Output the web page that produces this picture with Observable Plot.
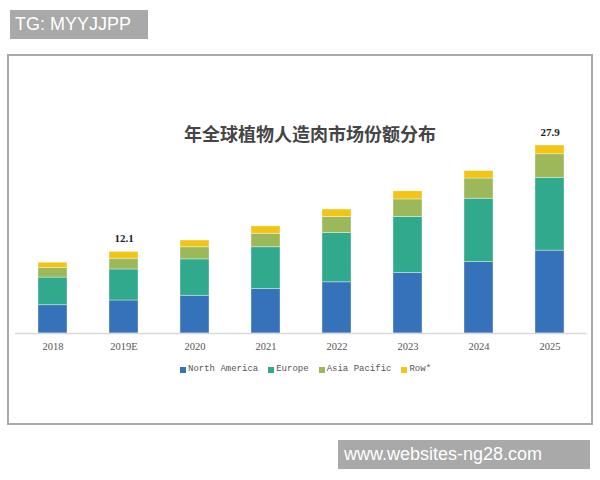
<!DOCTYPE html>
<html>
<head>
<meta charset="utf-8">
<script src="https://cdn.jsdelivr.net/npm/d3@7"></script>
<script src="https://cdn.jsdelivr.net/npm/@observablehq/plot@0.6"></script>
<style>
  html, body { margin: 0; padding: 0; background: #fff; }
  #wrap { position: relative; width: 600px; height: 480px; overflow: hidden; background: #fff; }
  #frame { position: absolute; left: 7px; top: 54px; width: 582px; height: 367px; border: 2px solid #aaa; }
  #chart { position: absolute; left: 0; top: 0; }
  #title { position: absolute; left: 160px; top: 121px; width: 300px; text-align: center;
           font-family: "Noto Sans CJK SC", sans-serif; font-weight: bold; font-size: 18px;
           line-height: 24px; color: #454545; }
  #legend { position: absolute; left: 180px; top: 364px; display: flex; gap: 10px;
            font-family: "Liberation Mono", monospace; font-size: 9px; line-height: 11px; color: #555; }
  #legend .item { display: flex; align-items: center; gap: 2px; }
  #legend .sw { width: 6px; height: 6px; display: inline-block; }
  .wm { position: absolute; background: #a9a9a9; color: #fff; font-family: "Liberation Sans", sans-serif;
        font-size: 18px; line-height: 29px; box-sizing: border-box; padding-left: 5px; }
  #wm1 { left: 10px; top: 10px; width: 138px; height: 29px; }
  #wm2 { left: 338px; top: 440px; width: 252px; height: 29px; padding-left: 6px; }
</style>
</head>
<body>
<div id="wrap">
  <div id="frame"></div>
  <div id="chart"></div>
  <div id="title"></div>
  <div id="legend"></div>
  <div class="wm" id="wm1">TG: MYYJJPP</div>
  <div class="wm" id="wm2">www.websites-ng28.com</div>
</div>
<script>
const titleText = "年全球植物人造肉市场份额分布";
const years = ["2018", "2019E", "2020", "2021", "2022", "2023", "2024", "2025"];
const series = ["North America", "Europe", "Asia Pacific", "Row*"];
const colors = ["#3572b9", "#30a98d", "#9db85a", "#f1c416"];
const northAmerica = [4.2, 4.9, 5.6, 6.6, 7.6, 9.0, 10.6, 12.3];
const europe = [4.1, 4.6, 5.4, 6.2, 7.3, 8.3, 9.4, 10.8];
const asiaPacific = [1.4, 1.6, 1.8, 2.0, 2.4, 2.6, 3.0, 3.5];
const rowOther = [0.8, 1.0, 1.0, 1.1, 1.1, 1.2, 1.1, 1.3];
const calloutYears = ["2019E", "2025"];
const calloutValues = [12.1, 27.9];

const valuesBySeries = [northAmerica, europe, asiaPacific, rowOther];
const table = [];
series.forEach((s, i) => {
  years.forEach((y, j) => table.push({year: y, series: s, value: valuesBySeries[i][j]}));
});
const callouts = calloutYears.map((y, i) => ({year: y, value: calloutValues[i]}));

const plot = Plot.plot({
  width: 600,
  height: 480,
  marginLeft: 15,
  marginRight: 13,
  marginTop: 145,
  marginBottom: 147,
  style: {fontFamily: "Liberation Serif, serif", fontSize: "10.5px", color: "#555", background: "transparent"},
  x: {domain: years, paddingInner: 0.59, paddingOuter: 0.3, tickSize: 0, tickPadding: 9, label: null},
  y: {domain: [0, 27.9], axis: null},
  color: {domain: series, range: colors},
  marks: [
    Plot.barY(table, {x: "year", y: "value", fill: "series", stroke: "#ffffff", strokeOpacity: 0.45, strokeWidth: 0.8}),
    Plot.ruleY([0], {stroke: "#d9d9d9", strokeWidth: 1.5}),
    Plot.text(callouts, {x: "year", y: "value", text: d => d.value.toFixed(1), dy: -13,
      fontWeight: "bold", fontSize: 11, fill: "#222", fontFamily: "Liberation Serif, serif"})
  ]
});
document.getElementById("chart").appendChild(plot);
document.getElementById("title").textContent = titleText;

const legend = document.getElementById("legend");
series.forEach((s, i) => {
  const item = document.createElement("span");
  item.className = "item";
  const sw = document.createElement("span");
  sw.className = "sw";
  sw.style.background = colors[i];
  const label = document.createElement("span");
  label.textContent = s;
  item.appendChild(sw);
  item.appendChild(label);
  legend.appendChild(item);
});
</script>
</body>
</html>
